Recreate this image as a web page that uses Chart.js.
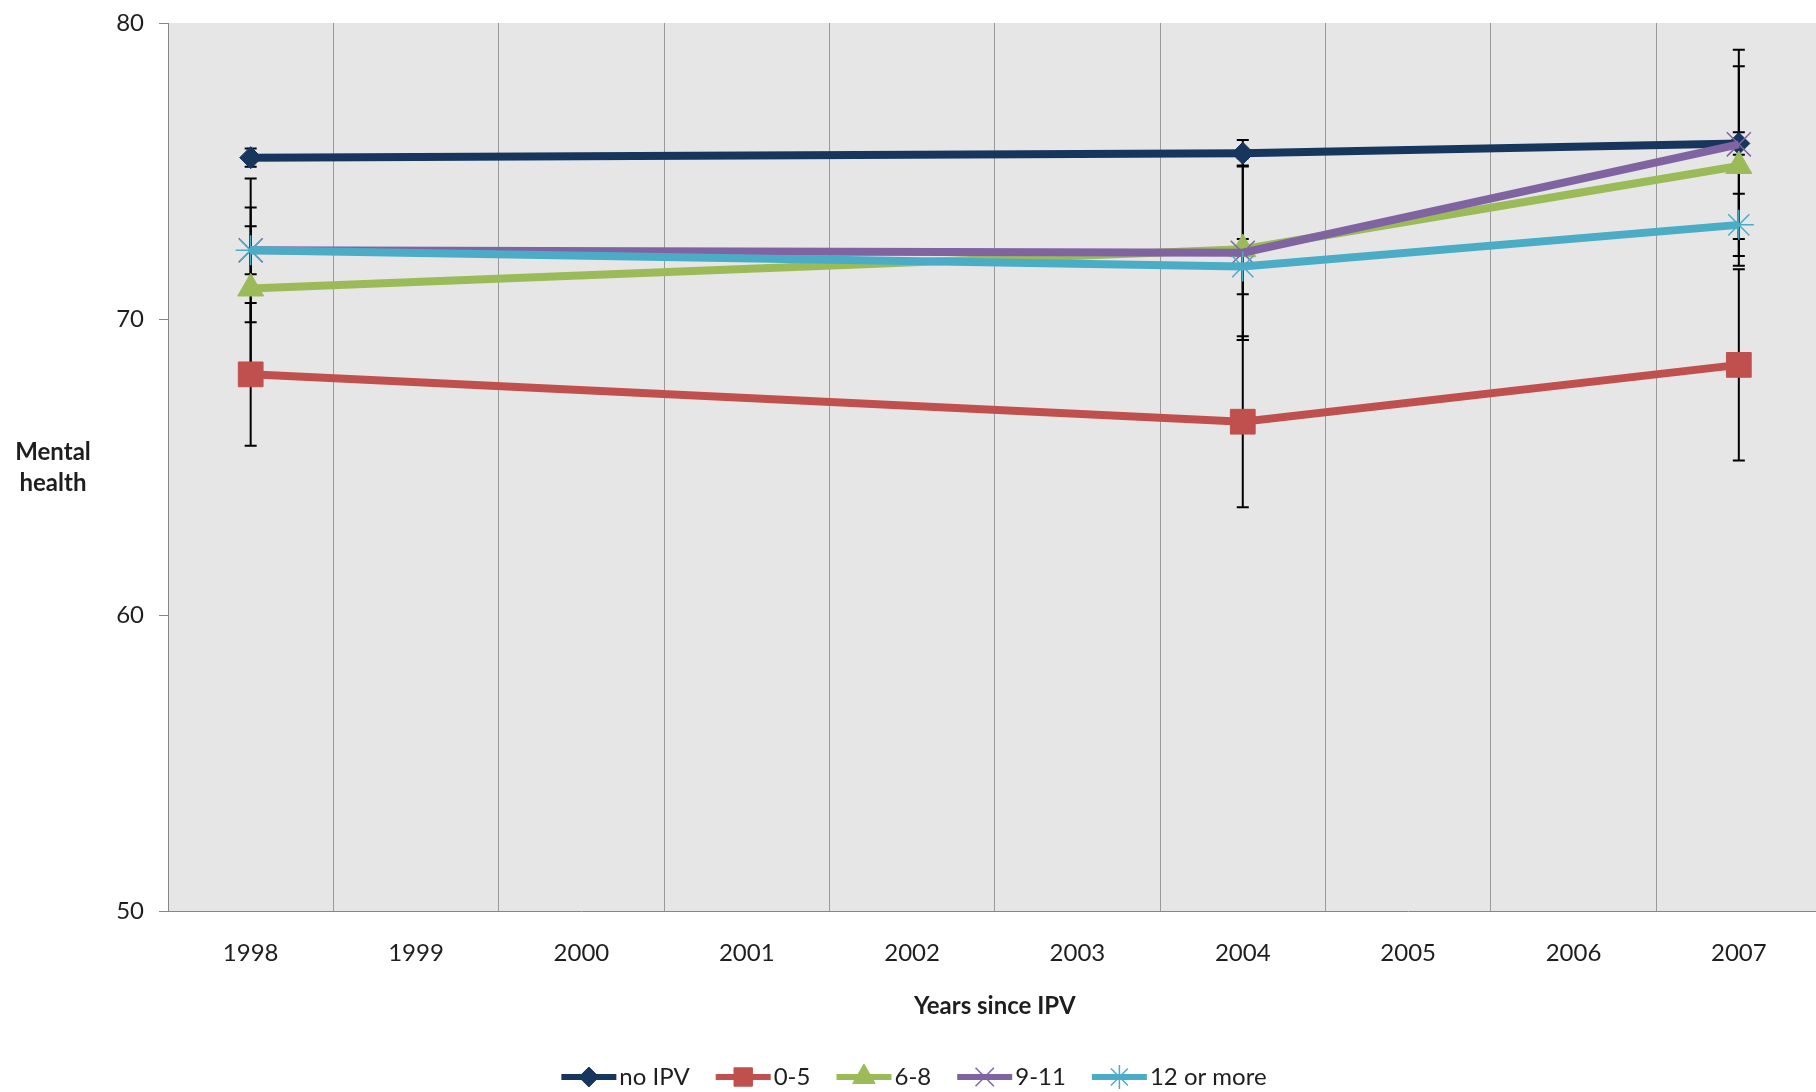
<!DOCTYPE html>
<html>
<head>
<meta charset="utf-8">
<script src="https://cdn.jsdelivr.net/npm/chart.js@4.4.1/dist/chart.umd.min.js"></script>
<style>
  html, body { margin: 0; padding: 0; background: #fff; overflow: hidden; }
</style>
</head>
<body>
<canvas id="mentalChart" width="1840" height="1092"></canvas>
<script>
const years = ['1998', '1999', '2000', '2001', '2002', '2003', '2004', '2005', '2006', '2007']
const yTicks = [50, 60, 70, 80]

// means per group, only measured in 1998, 2004 and 2007
const noIpv   = [75.45, null, null, null, null, null, 75.6, null, null, 75.93]
const ipv0to5 = [68.13, null, null, null, null, null, 66.53, null, null, 68.45]
const ipv6to8 = [71.03, null, null, null, null, null, 72.36, null, null, 75.17]
const ipv9to11 = [72.32, null, null, null, null, null, 72.24, null, null, 75.9]
const ipv12up = [72.32, null, null, null, null, null, 71.77, null, null, 73.18]

// half widths of the error bars
const errNoIpv   = [0.31, null, null, null, null, null, 0.45, null, null, 0.38]
const err0to5    = [2.41, null, null, null, null, null, 2.89, null, null, 3.23]
const err6to8    = [2.74, null, null, null, null, null, 3.07, null, null, 3.37]
const err9to11   = [0.81, null, null, null, null, null, 2.95, null, null, 3.2]
const err12up    = [2.43, null, null, null, null, null, 0.93, null, null, 1.05]

const FONT = 'Lato'
const TEXT = '#1e1e1e'
const AXIS = '#868686'

function series(label, data, errors, color, pointStyle, radius, pointBorderWidth, order) {
  return {
    label: label,
    data: data,
    errors: errors,
    borderColor: color,
    backgroundColor: color,
    borderWidth: 8,
    pointStyle: pointStyle,
    pointRadius: radius,
    pointBorderWidth: pointBorderWidth,
    pointBackgroundColor: color,
    pointBorderColor: color,
    spanGaps: true,
    tension: 0,
    order: order
  }
}

const plotBackground = {
  id: 'plotBackground',
  beforeDraw(chart) {
    const { ctx, chartArea } = chart
    ctx.save()
    ctx.fillStyle = '#e6e6e6'
    ctx.fillRect(chartArea.left, chartArea.top, chartArea.right - chartArea.left, chartArea.bottom - chartArea.top)
    ctx.restore()
  }
}

const errorBars = {
  id: 'errorBars',
  beforeDatasetsDraw(chart) {
    const { ctx } = chart
    const yScale = chart.scales.y
    ctx.save()
    ctx.strokeStyle = '#000'
    ctx.lineWidth = 2
    chart.data.datasets.forEach((ds, i) => {
      const meta = chart.getDatasetMeta(i)
      ds.data.forEach((v, j) => {
        const e = ds.errors[j]
        if (v == null || e == null) return
        const x = meta.data[j].x
        const yTop = yScale.getPixelForValue(v + e)
        const yBot = yScale.getPixelForValue(v - e)
        ctx.beginPath()
        ctx.moveTo(x, yTop)
        ctx.lineTo(x, yBot)
        ctx.moveTo(x - 6, yTop)
        ctx.lineTo(x + 6, yTop)
        ctx.moveTo(x - 6, yBot)
        ctx.lineTo(x + 6, yBot)
        ctx.stroke()
      })
    })
    ctx.restore()
  }
}

const titlesAndLegend = {
  id: 'titlesAndLegend',
  afterDraw(chart) {
    const { ctx, chartArea } = chart
    ctx.save()
    ctx.fillStyle = TEXT
    ctx.textAlign = 'center'
    ctx.textBaseline = 'middle'
    ctx.font = 'bold 24px ' + FONT
    ctx.fillText('Mental', 53, 452)
    ctx.fillText('health', 53, 483)
    ctx.fillText('Years since IPV', (chartArea.left + chartArea.right) / 2, chartArea.bottom + 95)

    // legend: line + marker, then label
    ctx.font = '24px ' + FONT
    const lineLen = 55
    const gapText = 3
    const gapItem = 26
    const items = chart.data.datasets.map(ds => ({ ds, w: ctx.measureText(ds.label).width }))
    const total = items.reduce((s, it) => s + lineLen + gapText + it.w, 0) + gapItem * (items.length - 1)
    let x = 914 - total / 2
    const y = chartArea.bottom + 166
    const legendRadius = { rectRot: 10, rect: 13, triangle: 13, crossRot: 13, star: 12 }
    items.forEach(it => {
      const ds = it.ds
      ctx.strokeStyle = ds.borderColor
      ctx.lineWidth = 6
      ctx.beginPath()
      ctx.moveTo(x, y)
      ctx.lineTo(x + lineLen, y)
      ctx.stroke()
      ctx.fillStyle = ds.borderColor
      ctx.lineWidth = ds.pointBorderWidth
      Chart.helpers.drawPoint(ctx, {
        pointStyle: ds.pointStyle,
        radius: legendRadius[ds.pointStyle],
        borderWidth: ds.pointBorderWidth,
        rotation: 0
      }, x + lineLen / 2, y)
      ctx.fillStyle = TEXT
      ctx.textAlign = 'left'
      ctx.fillText(ds.label, x + lineLen + gapText, y)
      x += lineLen + gapText + it.w + gapItem
    })
    ctx.restore()
  }
}

const ctx = document.getElementById('mentalChart').getContext('2d')

new Chart(ctx, {
  type: 'line',
  data: {
    labels: years,
    datasets: [
      series('no IPV', noIpv, errNoIpv, '#17365d', 'rectRot', 11, 1, 5),
      series('0-5', ipv0to5, err0to5, '#c0504d', 'rect', 17.5, 1, 4),
      series('6-8', ipv6to8, err6to8, '#9bbb59', 'triangle', 15, 1, 3),
      series('9-11', ipv9to11, err9to11, '#8064a2', 'crossRot', 17, 1.5, 2),
      series('12 or more', ipv12up, err12up, '#4bacc6', 'star', 15, 1.5, 1)
    ]
  },
  options: {
    responsive: false,
    animation: false,
    layout: {
      padding: { top: 23, left: 0, right: 0, bottom: 0 }
    },
    plugins: {
      legend: { display: false },
      tooltip: { enabled: false }
    },
    scales: {
      x: {
        offset: true,
        grid: {
          offset: true,
          color: '#9a9a9a',
          lineWidth: 1,
          drawTicks: false
        },
        border: { color: AXIS, width: 1 },
        ticks: {
          color: TEXT,
          font: { family: FONT, size: 24 },
          padding: 28,
          maxRotation: 0
        },
        afterFit(scale) {
          scale.height = 181
        }
      },
      y: {
        min: 50,
        max: 80,
        afterBuildTicks(scale) {
          scale.ticks = yTicks.map(v => ({ value: v }))
        },
        grid: {
          drawOnChartArea: false,
          drawTicks: true,
          tickLength: 9,
          tickColor: AXIS
        },
        border: { color: AXIS, width: 1 },
        ticks: {
          color: TEXT,
          font: { family: FONT, size: 24 },
          padding: 15
        },
        afterFit(scale) {
          scale.width = 168
          scale.paddingTop = 0
          scale.paddingBottom = 0
        }
      }
    }
  },
  plugins: [plotBackground, errorBars, titlesAndLegend]
})
</script>
</body>
</html>
